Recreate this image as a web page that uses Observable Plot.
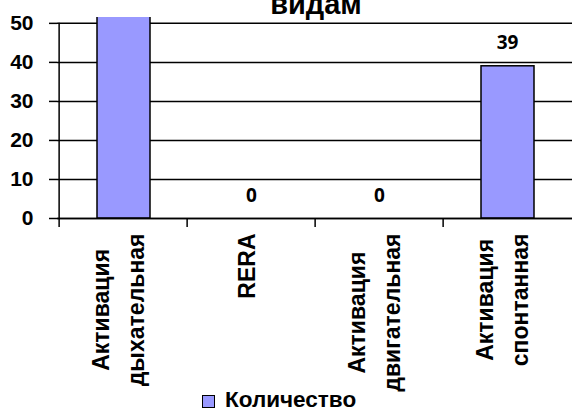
<!DOCTYPE html>
<html>
<head>
<meta charset="utf-8">
<script src="https://cdn.jsdelivr.net/npm/d3@7"></script>
<script src="https://cdn.jsdelivr.net/npm/@observablehq/plot@0.6"></script>
<style>
  html, body { margin: 0; padding: 0; background: white; }
  #wrap { position: relative; width: 572px; height: 410px; overflow: hidden; background: white; font-family: "Liberation Sans", Arial, sans-serif; }
  #title { position: absolute; left: 166px; width: 300px; top: -10.5px; text-align: center; font-size: 29px; line-height: 1; font-weight: bold; z-index: 2; }
  #legend { position: absolute; left: 202px; top: 389px; display: flex; align-items: flex-start; z-index: 2; }
  #legend .sw { width: 11px; height: 11px; margin-top: 6px; background: #9999FF; border: 1px solid black; }
  #legend .lab { margin-left: 10px; font-size: 22.5px; line-height: 1; font-weight: bold; }
</style>
</head>
<body>
<div id="wrap">
  <div id="title"></div>
  <div id="chart"></div>
  <div id="legend"><div class="sw"></div><div class="lab"></div></div>
</div>
<script>
const titleText = "видам";
const seriesName = "Количество";
const categories = ["Активация\nдыхательная", "RERA", "Активация\nдвигательная", "Активация\nспонтанная"];
const values = [85, 0, 0, 39];
const yTicks = [0, 10, 20, 30, 40, 50];

const data = categories.map((c, i) => ({category: c, value: values[i]}));

const W = 572, H = 390, ML = 57, MR = 0;
const step = (W - ML - MR) / categories.length;

document.getElementById("title").textContent = titleText;
document.querySelector("#legend .lab").textContent = seriesName;

const chart = Plot.plot({
  width: W, height: H,
  marginLeft: ML, marginRight: MR, marginTop: 17, marginBottom: 172,
  style: {fontFamily: "'Liberation Sans', Arial, sans-serif", overflow: "visible", background: "transparent", color: "black"},
  x: {domain: categories, padding: 0, axis: null},
  y: {domain: [0, 51.5], axis: null},
  marks: [
    Plot.ruleY(yTicks, {stroke: "black", strokeWidth: 1.5}),
    Plot.barY(data, {x: "category", y: "value", fill: "#9999FF", stroke: "black", strokeWidth: 1.5, insetLeft: 38, insetRight: 37, clip: true}),
    Plot.ruleX(categories, {x: d => d, dx: -step / 2, y1: (d, i) => i === 0 ? 50 : 0, y2: -2.3, stroke: "black", strokeWidth: 1.5}),
    Plot.ruleY([0], {stroke: "black", strokeWidth: 1.5}),
    Plot.text(data, {x: "category", y: "value", text: d => String(d.value), dy: -23, clip: true,
      fontFamily: "'Open Sans', sans-serif", fontWeight: "bold", fontSize: 19, fill: "black"}),
    Plot.axisY({ticks: yTicks, label: null, tickSize: 8, tickPadding: 16, fontSize: 21, fontWeight: "bold", stroke: "black", strokeWidth: 1.5, tickFormat: d => String(d), fill: "black"}),
    Plot.text(categories, {x: d => d, frameAnchor: "bottom", dy: 15, dx: -8, rotate: -90, textAnchor: "end", lineAnchor: "middle",
      lineHeight: 1.5, fontSize: 23, fontWeight: "bold", fill: "black", className: "xlab"})
  ]
});
document.getElementById("chart").appendChild(chart);

// center the lines of each multi-line category label within its block
d3.select(chart).selectAll(".xlab text").each(function() {
  const tspans = d3.select(this).selectAll("tspan");
  if (tspans.size() < 2) return;
  let max = 0;
  tspans.each(function() { max = Math.max(max, this.getComputedTextLength()); });
  d3.select(this).attr("text-anchor", "middle");
  tspans.attr("x", -max / 2);
});
</script>
</body>
</html>
